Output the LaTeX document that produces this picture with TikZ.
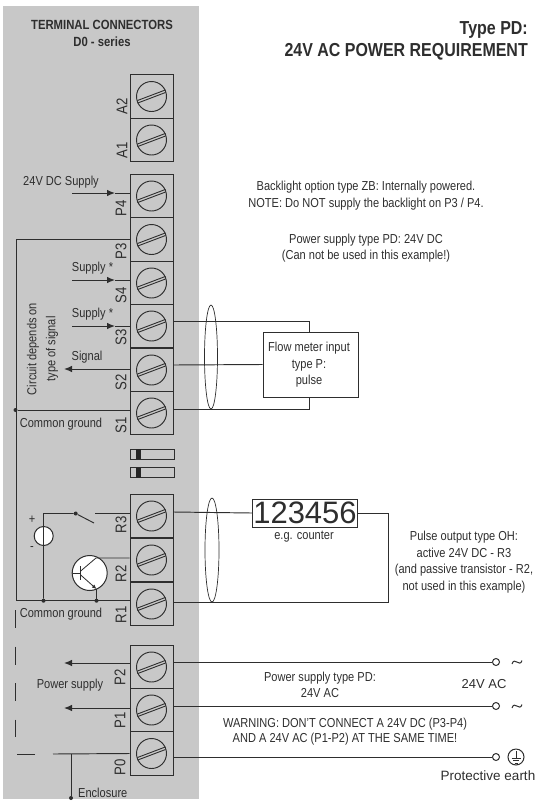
\documentclass[tikz,border=0pt]{standalone}
\usepackage{fontspec}
\setmainfont[FakeStretch=0.85]{Liberation Sans}
\newfontfamily\plainfont{Liberation Sans}
\usetikzlibrary{arrows.meta,calc,shapes.geometric}
\definecolor{panelgray}{HTML}{C8C8C8}
\definecolor{inkgray}{HTML}{2E2E2E}
\tikzset{
  wire/.style={draw=inkgray,line width=0.95pt},
  head/.style={-{Latex[length=8pt,width=6.5pt]}},
  smallhead/.style={-{Latex[length=4.5pt,width=4pt]}},
  terminal/.style={draw=inkgray,line width=1pt,minimum width=43pt,minimum height=43.5pt,inner sep=0pt},
  screw/.style={circle,draw=inkgray,line width=0.95pt,minimum size=30pt,inner sep=0pt},
  txt/.style={inner sep=0pt,text=inkgray,align=center,font=\fontsize{13}{16.5}\selectfont},
  bold/.style={txt,font=\fontsize{13.3}{17}\selectfont\bfseries},
  pin/.style={txt,rotate=90,font=\fontsize{15.5}{16}\selectfont},
  dot/.style={circle,fill=inkgray,inner sep=0pt,minimum size=4pt},
  openend/.style={circle,draw=inkgray,line width=1pt,fill=white,inner sep=0pt,minimum size=7pt},
  cable/.style={draw=inkgray,line width=0.7pt}
}
\begin{document}
\begin{tikzpicture}[x=1pt,y=-1pt]
\useasboundingbox (0,0) rectangle (536,801);
\fill[panelgray] (3,6) rectangle (199,799);

\node[bold] (hdrA) at (102,33) {TERMINAL CONNECTORS\\D0 - series};
\node[txt,font=\fontsize{18.8}{21.5}\selectfont\bfseries,align=right,anchor=east] (hdrB) at (528,41) {Type PD:\\24V AC POWER REQUIREMENT};

% terminal blocks
\foreach \name/\ypos/\labx/\laby in {A2/96.5/122/106,A1/140/122/150,P4/196/121/208,P3/239.5/121/251,
  S4/283/121/295,S3/326/121/337,S2/370/121/382,S1/413/121/425,
  R3/516/121/525,R2/560/121/574,R1/604/121/615,
  P2/667/120/677,P1/710/120/720,P0/753.5/120/767}{
  \node[terminal] (\name) at (151.5,\ypos) {};
  \node[screw] (\name c) at (\name) {};
  \draw[inkgray,line width=0.9pt] ([shift={(-14,6.6)}]\name c.center) -- ([shift={(14,-4)}]\name c.center);
  \draw[inkgray,line width=0.9pt] ([shift={(-14,4)}]\name c.center) -- ([shift={(14,-6.6)}]\name c.center);
  \node[pin] (lab\name) at (\labx,\laby) {\name};
}

% jumpers
\foreach \name/\ypos in {jmpA/454,jmpB/472.5}{
  \node[draw=inkgray,line width=1pt,minimum width=44pt,minimum height=10pt,inner sep=0pt] (\name) at (152,\ypos) {};
  \fill[black!85] (136,\ypos-5) rectangle (141,\ypos+5);
}

% left side
\coordinate (gndtop) at (16,239.5);
\coordinate (gndlow) at (16,600.7);
\draw[wire] (P3.west) -- (gndtop) -- (gndlow) -- ([yshift=3.3pt]R1.west);
\node[dot] (gndS) at (15.5,410) {};
\draw[wire] (gndS) -- ([yshift=3pt]S1.west);

\node[txt] (supplyDC) at (61,182) {24V DC Supply};
\coordinate (arrDC) at (72,193);
\coordinate (arrDCh) at (115,193);
\draw[wire,head] (arrDC) -- (arrDCh);
\draw[wire] (arrDCh) -- ([yshift=3pt]P4.west);
\node[txt] (supplyA) at (92.5,268) {Supply *};
\coordinate (arrA) at (72,280);
\coordinate (arrAh) at (115,280);
\draw[wire,head] (arrA) -- (arrAh);
\draw[wire] (arrAh) -- ([yshift=3pt]S4.west);
\node[txt] (supplyB) at (92.5,314) {Supply *};
\coordinate (arrB) at (72,326);
\coordinate (arrBh) at (115,326);
\draw[wire,head] (arrB) -- (arrBh);
\draw[wire] (arrBh) -- (S3.west);
\node[txt] (signal) at (87,357) {Signal};
\coordinate (arrS) at (64,369);
\draw[wire,head] ([yshift=1pt]S2.west) -- (arrS);
\node[txt,rotate=90,font=\fontsize{13}{19}\selectfont] (circuit) at (42.5,349) {Circuit depends on\\type of signal};
\node[txt] (gndtxtA) at (61,424) {Common ground};
\node[txt] (gndtxtB) at (61,614) {Common ground};

% switch and battery
\node[dot] (swL) at (75.7,513.5) {};
\coordinate (swR) at (94,523);
\coordinate (swC) at (95,513.5);
\coordinate (batT) at (43.5,513.5);
\node[circle,draw=inkgray,line width=1pt,fill=white,minimum size=19pt,inner sep=0pt] (bat) at (43.7,536) {};
\node[dot] (batB) at (43.5,600.7) {};
\draw[wire] (batB) -- (batT) -- (swL) -- (swR);
\draw[wire] (swC) -- ([yshift=2.5pt]R3.west);
\node[txt] (plus) at (32,520) {+};
\node[txt] (minus) at (32,549) {-};

% transistor
\node[circle,draw=inkgray,line width=1pt,fill=white,minimum size=35pt,inner sep=0pt] (tr) at (89.7,573) {};
\coordinate (trB) at (80.7,573);
\coordinate (trCa) at (80.7,571);
\coordinate (trCb) at (96,558);
\coordinate (trEa) at (80.7,575);
\coordinate (trEb) at (96.5,589);
\node[dot] (trG) at (96.5,600.7) {};
\draw[inkgray,line width=0.8pt] (72.7,573) -- (trB);
\draw[inkgray,line width=0.8pt] (80.7,566) -- (80.7,580);
\draw[inkgray,line width=0.8pt] (trCa) -- (trCb) -- ([yshift=2pt]R2.west);
\draw[inkgray,line width=0.8pt,smallhead] (trEa) -- (trEb);
\draw[wire] (trEb) -- (trG);

% power and earth, left
\coordinate (dashT) at (15,610);
\coordinate (dashB) at (15,737);
\draw[wire,dash pattern=on 18pt off 18.5pt] (dashT) -- (dashB);
\coordinate (arrP2) at (64,663);
\coordinate (arrP1) at (64,708);
\draw[wire,head] ([yshift=4pt]P2.west) -- (arrP2);
\draw[wire,head] ([yshift=2pt]P1.west) -- (arrP1);
\node[txt] (pwr) at (70,685) {Power supply};
\coordinate (peA) at (53,754);
\coordinate (peB) at (35,754);
\coordinate (peC) at (17,754);
\coordinate (peD) at (71,754);
\node[dot] (encl) at (71,798) {};
\draw[wire] (P0.west) -- (peA);
\draw[wire] (peB) -- (peC);
\draw[wire] (peD) -- (encl);
\node[txt,anchor=west] (encltxt) at (78,793) {Enclosure};

% flow meter
\node[draw=inkgray,line width=1pt,fill=white,minimum width=95pt,minimum height=65pt,inner sep=0pt] (flow) at (310.5,364.5) {};
\node[txt] (flowtxt) at (309,365) {Flow meter input\\type P:\\pulse};
\draw[wire] ([yshift=5pt]S3.east) -| ([xshift=-1.5pt]flow.north);
\draw[wire] ([yshift=5pt]S2.east) -- (flow.west);
\draw[wire] ([yshift=4pt]S1.east) -| ([xshift=-1.5pt]flow.south);
\node[ellipse,cable,minimum width=13pt,minimum height=104pt,inner sep=0pt] (shieldA) at (211,357) {};

% counter
\node[draw=inkgray,line width=1pt,fill=white,minimum width=105pt,minimum height=28pt,inner sep=0pt,text=inkgray,font=\fontsize{31}{31}\selectfont\plainfont] (counter) at (305,513) {123456};
\node[txt] (countertxt) at (304,537) {e.g. counter};
\draw[wire] ([yshift=4pt]R3.east) -- (counter.west);
\coordinate (retA) at (388,513);
\coordinate (retB) at (388,602);
\draw[wire] (counter.east) -- (retA) -- (retB) -- ([yshift=2pt]R1.east);
\node[ellipse,cable,minimum width=14pt,minimum height=104pt,inner sep=0pt] (shieldB) at (212,550) {};

% right side
\node[openend] (endP2) at (496,662) {};
\node[openend] (endP1) at (496,706) {};
\node[openend] (endP0) at (496,757) {};
\draw[wire] ([yshift=5pt]P2.east) -- (endP2);
\draw[wire] ([yshift=4pt]P1.east) -- (endP1);
\draw[wire] ([yshift=-3.5pt]P0.east) -- (endP0);
\draw[inkgray,line width=1pt] (512,664) .. controls (514.5,656) and (519.5,668) .. (522,660.5);
\draw[inkgray,line width=1pt] (512,708) .. controls (514.5,700) and (519.5,712) .. (522,704.5);
\node[txt,font=\fontsize{13}{16}\selectfont\plainfont] (ac) at (484,684) {24V AC};
\node[circle,draw=inkgray,line width=1pt,minimum size=16pt,inner sep=0pt] (earth) at (516,757) {};
\draw[inkgray,line width=0.7pt] (516,751) -- (516,758);
\draw[inkgray,line width=0.7pt] (511.5,758) -- (520.5,758);
\draw[inkgray,line width=0.7pt] (513,760.5) -- (519,760.5);
\draw[inkgray,line width=0.7pt] (514.5,763) -- (517.5,763);
\node[txt,font=\fontsize{13.5}{16}\selectfont\plainfont] (earthtxt) at (488,776) {Protective earth};

% notes
\node[txt] (noteA) at (366,195.5) {Backlight option type ZB: Internally powered.\\NOTE: Do NOT supply the backlight on P3 / P4.};
\node[txt] (noteB) at (366,248) {Power supply type PD: 24V DC\\(Can not be used in this example!)};
\node[txt] (noteC) at (464,562) {Pulse output type OH:\\active 24V DC - R3\\(and passive transistor - R2,\\not used in this example)};
\node[txt] (noteD) at (320,685) {Power supply type PD:\\24V AC};
\node[txt,font=\fontsize{13}{15}\selectfont] (noteE) at (345,731.5) {WARNING: DON'T CONNECT A 24V DC (P3-P4)\\AND A 24V AC (P1-P2) AT THE SAME TIME!};
\end{tikzpicture}
\end{document}
